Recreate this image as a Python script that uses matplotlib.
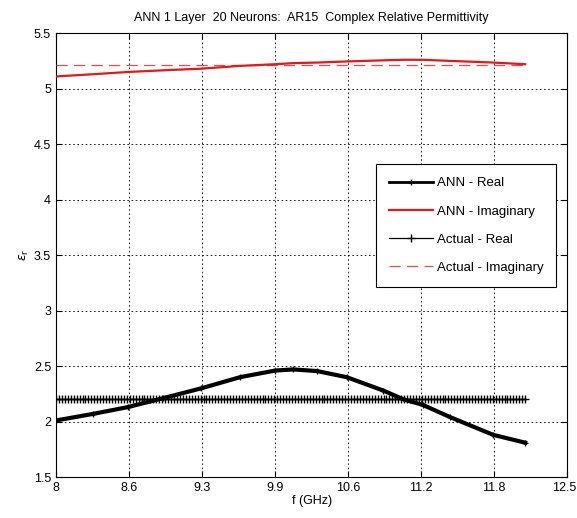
import numpy as np
import matplotlib
matplotlib.use('Agg')
import matplotlib.pyplot as plt
from matplotlib.transforms import ScaledTranslation

plt.rcParams['font.family'] = ['Liberation Sans', 'DejaVu Sans']
plt.rcParams['font.size'] = 9

# ANN outputs (f in GHz)
ann_f = [8.00, 8.33, 8.63, 8.94, 9.28, 9.62, 9.93, 10.09, 10.30, 10.56, 10.88, 11.06, 11.23, 11.47, 11.85, 12.13]
ann_real = [2.01, 2.07, 2.13, 2.21, 2.30, 2.40, 2.46, 2.47, 2.455, 2.40, 2.28, 2.20, 2.15, 2.04, 1.88, 1.81]
ann_imag = [5.11, 5.13, 5.15, 5.165, 5.18, 5.205, 5.22, 5.23, 5.235, 5.245, 5.255, 5.26, 5.26, 5.25, 5.235, 5.22]

# measured (actual) values, constant over the band
act_f = np.linspace(8.0, 12.13, 160)
act_real = np.full(act_f.size, 2.2)
act_imag = np.full(act_f.size, 5.215)

xtick_pos = np.linspace(8, 12.5, 8)
xtick_lab = ['8', '8.6', '9.3', '9.9', '10.6', '11.2', '11.8', '12.5']
ytick_pos = [1.5, 2, 2.5, 3, 3.5, 4, 4.5, 5, 5.5]
ytick_lab = ['1.5', '2', '2.5', '3', '3.5', '4', '4.5', '5', '5.5']

red = '#e01a1a'

fig = plt.figure(figsize=(5.77, 5.18), dpi=100)
ax = fig.add_axes([0.097, 0.079, 0.886, 0.857])  # [left bottom width height]

ax.plot(ann_f, ann_real, color='k', lw=3.0, marker='+', ms=4, mew=1, label='ANN - Real', zorder=4)
ax.plot(ann_f, ann_imag, color=red, lw=1.6, label='ANN - Imaginary', zorder=4)
ax.plot(act_f, act_real, color='k', lw=0.9, marker='+', ms=5.5, mew=1.0, label='Actual - Real', zorder=3)
ax.plot(act_f, act_imag, color='#d85050', lw=0.9, ls=(0, (9, 5)), label='Actual - Imaginary', zorder=3)

ax.set_xlim(8, 12.5)
ax.set_ylim(1.5, 5.5)
ax.set_xticks(xtick_pos)
ax.set_xticklabels(xtick_lab)
ax.set_yticks(ytick_pos)
ax.set_yticklabels(ytick_lab)
ax.tick_params(direction='in', top=True, right=True, length=4, width=0.8, labelsize=9)
# nudge the last x label so it stays inside the figure
lab = ax.get_xticklabels()[-1]
lab.set_transform(lab.get_transform() + ScaledTranslation(-2.5 / 72, 0, fig.dpi_scale_trans))
ax.grid(True, color='k', ls=(0, (2, 3)), lw=0.6)
for s in ax.spines.values():
    s.set_linewidth(0.8)

ax.set_xlabel('f (GHz)', fontsize=9, labelpad=1)
ax.set_ylabel(r'$\epsilon_\mathrm{r}$', fontsize=9, rotation=90, labelpad=2)
ax.set_title('ANN 1 Layer  20 Neurons:  AR15  Complex Relative Permittivity', fontsize=9, pad=9)

leg = ax.legend(loc='upper left', bbox_to_anchor=(0.613, 0.72), fontsize=9.5, frameon=True,
                fancybox=False, edgecolor='k', framealpha=1, handlelength=3.3,
                labelspacing=1.2, borderpad=1.0, handletextpad=0.3)
leg.get_frame().set_linewidth(0.8)
leg.get_lines()[0].set_linewidth(2.0)

plt.savefig('out.png', dpi=100, facecolor='w')
